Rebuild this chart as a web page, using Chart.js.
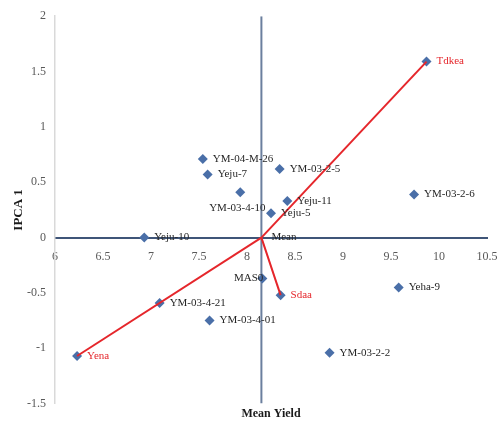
<!DOCTYPE html>
<html>
<head>
<meta charset="utf-8">
<script src="https://cdn.jsdelivr.net/npm/chart.js@4.4.1/dist/chart.umd.min.js"></script>
<style>
  html, body { margin: 0; padding: 0; background: #fff; }
  #wrap { width: 499px; height: 427px; }
</style>
</head>
<body>
<div id="wrap"><canvas id="chart"></canvas></div>
<script>
// ---- Data ----
const genotypes = ['YM-04-M-26', 'Yeju-7', 'YM-03-2-5', 'YM-03-4-10', 'Yeju-11', 'Yeju-5', 'YM-03-2-6',
                   'Yeju-10', 'MAS0', 'YM-03-4-21', 'YM-03-4-01', 'Yeha-9', 'YM-03-2-2'];
const genoYield = [7.54, 7.59, 8.34, 7.93, 8.42, 8.25, 9.74, 6.93, 8.16, 7.09, 7.61, 9.58, 8.86];
const genoIPCA  = [0.71, 0.57, 0.62, 0.41, 0.33, 0.22, 0.39, 0.00, -0.37, -0.59, -0.75, -0.45, -1.04];

const environments = ['Tdkea', 'Yena', 'Sdaa'];
const envYield = [9.87, 6.23, 8.35];
const envIPCA  = [1.59, -1.07, -0.52];

const meanYield = 8.15;
const xRange = [6, 10.5];
const yRange = [-1.5, 2];
const tickStep = 0.5;

// labels that are not placed to the right of their point
const labelPlacement = { 'YM-03-4-10': 'below', 'MAS0': 'left' };

const SERIF = '"Liberation Serif", "DejaVu Serif", serif';
const BLUE = '#4a6fa8';
const RED = '#e5262b';

// ---- Point labels ----
const pointLabelPlugin = {
    id: 'pointLabels',
    afterDatasetsDraw(chart) {
        const { ctx } = chart;
        ctx.save();
        ctx.font = '11px ' + SERIF;
        chart.data.datasets.forEach((ds, di) => {
            if (!ds.pointLabels) return;
            const meta = chart.getDatasetMeta(di);
            meta.data.forEach((pt, i) => {
                const text = ds.pointLabels[i];
                const place = labelPlacement[text] || 'right';
                let x = pt.x, y = pt.y;
                ctx.fillStyle = ds.labelColor;
                if (place === 'left') {
                    ctx.textAlign = 'right'; ctx.textBaseline = 'middle'; x += 1;
                } else if (place === 'below') {
                    ctx.textAlign = 'center'; ctx.textBaseline = 'top'; x -= 3; y += 10;
                } else {
                    ctx.textAlign = 'left'; ctx.textBaseline = 'middle'; x += 10;
                }
                ctx.fillText(text, x, y);
            });
        });
        ctx.restore();
    }
};

// ---- Datasets ----
const toPoints = (xs, ys) => xs.map((x, i) => ({ x: x, y: ys[i] }));

const vectorSets = environments.map((name, i) => ({
    type: 'line',
    data: [{ x: meanYield, y: 0 }, { x: envYield[i], y: envIPCA[i] }],
    borderColor: RED,
    borderWidth: 2,
    pointRadius: 0,
    order: 1
}));

const datasets = [
    ...vectorSets,
    {
        type: 'scatter',
        data: toPoints(genoYield, genoIPCA),
        pointLabels: genotypes,
        labelColor: '#262626',
        pointStyle: 'rectRot',
        pointRadius: 5,
        backgroundColor: BLUE,
        borderColor: BLUE,
        borderWidth: 0,
        order: 2
    },
    {
        type: 'scatter',
        data: toPoints(envYield, envIPCA),
        pointLabels: environments,
        labelColor: RED,
        pointStyle: 'rectRot',
        pointRadius: 5,
        backgroundColor: BLUE,
        borderColor: BLUE,
        borderWidth: 0,
        order: 2
    },
    {
        // the mean point (origin of the vectors)
        type: 'scatter',
        data: [{ x: meanYield, y: 0 }],
        pointLabels: ['Mean'],
        labelColor: '#262626',
        pointRadius: 0,
        order: 3
    },
    {
        // vertical line at the mean yield
        type: 'line',
        data: [{ x: meanYield, y: yRange[0] }, { x: meanYield, y: yRange[1] }],
        borderColor: '#6b7f9e',
        borderWidth: 2,
        pointRadius: 0,
        order: 4
    }
];

// ---- Config ----
const tickFont = { family: SERIF, size: 12 };
const plainNumber = (v) => String(Number(v));

const config = {
    type: 'scatter',
    data: { datasets: datasets },
    options: {
        responsive: true,
        maintainAspectRatio: false,
        animation: false,
        layout: { padding: { top: 15, right: 12, left: 0, bottom: 0 } },
        plugins: {
            legend: { display: false },
            tooltip: { enabled: false }
        },
        scales: {
            x: {
                type: 'linear',
                min: xRange[0], max: xRange[1],
                position: { y: 0 },
                ticks: { stepSize: tickStep, padding: 12, color: '#595959', font: tickFont, callback: plainNumber },
                grid: { display: false, drawTicks: false },
                border: { color: '#3f5578', width: 2 },
                // labels sit inside the canvas margin, don't let them shrink the plot
                afterFit: (scale) => { scale.paddingLeft = 0; scale.paddingRight = 0; }
            },
            x2: {
                type: 'linear',
                min: xRange[0], max: xRange[1],
                position: 'bottom',
                ticks: { display: false },
                grid: { display: false, drawTicks: false },
                border: { display: false },
                title: {
                    display: true, text: 'Mean Yield', color: '#1a1a1a',
                    font: { family: SERIF, size: 12, weight: 'bold' },
                    padding: { top: 3, bottom: 6 }
                }
            },
            y: {
                type: 'linear',
                min: yRange[0], max: yRange[1],
                position: 'left',
                ticks: { stepSize: tickStep, padding: 9, color: '#595959', font: tickFont, callback: plainNumber },
                grid: { display: false, drawTicks: false },
                border: { color: '#d9d9d9', width: 1.5 },
                title: {
                    display: true, text: 'IPCA 1', color: '#1a1a1a',
                    font: { family: SERIF, size: 13, weight: 'bold' },
                    padding: { top: 11, bottom: 0 }
                },
                afterFit: (scale) => { scale.width = 55; }
            }
        }
    },
    plugins: [pointLabelPlugin]
};

// ---- Create chart ----
const ctx = document.getElementById('chart').getContext('2d');
new Chart(ctx, config);
</script>
</body>
</html>
